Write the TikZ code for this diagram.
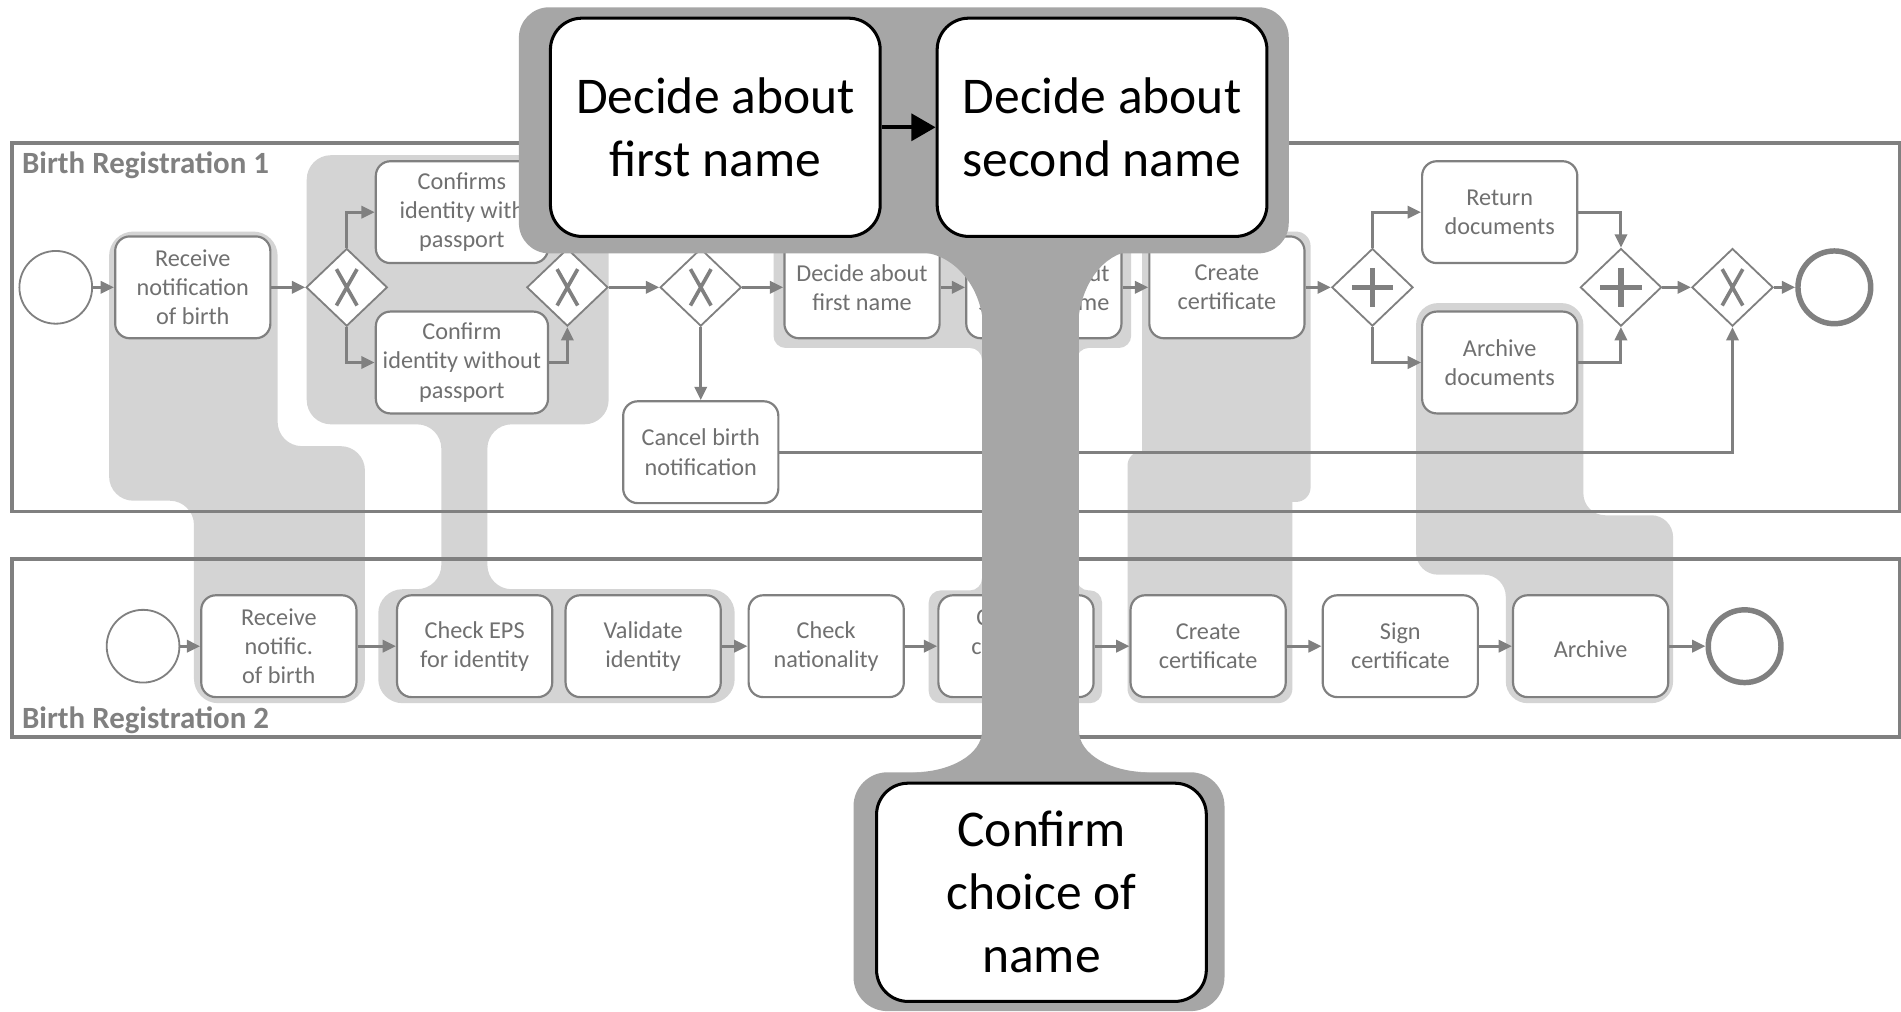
\documentclass[tikz,border=0pt]{standalone}
\usepackage{fontspec}
\setmainfont{Carlito}
\usetikzlibrary{shapes.geometric,arrows.meta}
\definecolor{bandgray}{RGB}{212,212,212}
\definecolor{darkov}{RGB}{166,166,166}
\definecolor{linegray}{RGB}{128,128,128}
\definecolor{txtgray}{RGB}{112,112,112}
\definecolor{poolgray}{RGB}{128,128,128}
\begin{document}
\begin{tikzpicture}[x=1pt,y=-1pt,
  task/.style={draw=linegray, line width=1.8pt, fill=white, rounded corners=12pt,
    minimum width=128pt, minimum height=84pt, inner sep=2pt, align=center,
    text=txtgray, font=\fontsize{20}{24}\selectfont,
    execute at begin node={\rule{0pt}{18pt}}},
  widetask/.style={task, minimum width=142pt},
  gw/.style={diamond, draw=linegray, line width=1.5pt, fill=white,
    minimum width=67pt, minimum height=64pt, inner sep=0pt},
  xgw/.style={gw, path picture={\draw[linegray, line width=3pt]
      ([xshift=-8.5pt,yshift=15pt]path picture bounding box.center) --
      ([xshift=8.5pt,yshift=-15pt]path picture bounding box.center)
      ([xshift=8.5pt,yshift=15pt]path picture bounding box.center) --
      ([xshift=-8.5pt,yshift=-15pt]path picture bounding box.center);}},
  pgw/.style={gw, path picture={\draw[linegray, line width=4.5pt]
      ([xshift=-17pt]path picture bounding box.center) --
      ([xshift=17pt]path picture bounding box.center)
      ([yshift=16pt]path picture bounding box.center) --
      ([yshift=-16pt]path picture bounding box.center);}},
  startev/.style={circle, draw=linegray, line width=1.5pt, fill=white,
    minimum size=60pt, inner sep=0pt},
  endev/.style={circle, draw=linegray, line width=4.5pt, fill=white,
    minimum size=60pt, inner sep=0pt},
  flow/.style={draw=linegray, line width=2.5pt, -{Triangle[length=11pt,width=10pt]}},
  pooltitle/.style={inner sep=0pt, text=poolgray, font=\fontsize{25.5}{30}\selectfont\bfseries},
  poolframe/.style={draw=poolgray, line width=3pt},
  band/.style={fill=bandgray},
  overlay/.style={fill=darkov},
  bigbox/.style={draw=black, line width=2.5pt, fill=white, rounded corners=26pt,
    minimum width=272pt, minimum height=180pt, inner sep=0pt, align=center,
    text=black, font=\fontsize{42.5}{52}\selectfont,
    execute at begin node={\rule{0pt}{35pt}}},
  bigflow/.style={draw=black, line width=3.5pt, -{Triangle[length=20pt,width=22pt]}}
]
\fill[white] (0,0) rectangle (1568,834);
\useasboundingbox (0,0) rectangle (1568,834);

% ---- correspondence bands (light)
\fill[band, rounded corners=20pt] (90,191) -- (229,191) -- (229,368) -- (301,368) -- (301,580) -- (160,580) -- (160,413) -- (90,413) -- cycle;
\fill[band, rounded corners=20pt] (253,128) -- (502,128) -- (502,350) -- (402,350) -- (402,486) -- (606,486) -- (606,580) -- (312,580) -- (312,486) -- (364,486) -- (364,350) -- (253,350) -- cycle;
\fill[band, rounded corners=10pt] (638,190) -- (933,190) -- (933,287) -- (888,287) -- (888,487) -- (909,487) -- (909,580) -- (766,580) -- (766,487) -- (810,487) -- (810,287) -- (638,287) -- cycle;
\fill[band, rounded corners=12pt] (942,191) rectangle (1081,414);
\fill[band, rounded corners=12pt] (930,372) rectangle (1066,580);
\fill[band, rounded corners=18pt] (1168,250) -- (1306,250) -- (1306,425) -- (1380,425) -- (1380,580) -- (1242,580) -- (1242,474) -- (1168,474) -- cycle;

% ---- pools
\draw[poolframe] (10,118) rectangle (1567,422);
\draw[poolframe] (10,461) rectangle (1567,608);
\node[pooltitle, anchor=base west] (L1) at (18,143) {Birth Registration 1};
\node[pooltitle, anchor=base west] (L2) at (18,601) {Birth Registration 2};

% ---- pool 1
\node[startev] (S1) at (46,237) {};
\node[task] (T1) at (159,237) {Receive\\notification\\of birth};
\node[xgw] (G1) at (286,237) {};
\node[widetask] (Tc1) at (381,175) {Confirms\\identity with\\passport};
\node[widetask] (Tc2) at (381,299) {Confirm\\identity without\\passport};
\node[xgw] (G2) at (468,237) {};
\node[xgw] (G3) at (578,237) {};
\node[task] (Tcan) at (578,373) {Cancel birth\\notification};
\node[task] (Tdf) at (711,237) {Decide about\\first name};
\node[task] (Tds) at (861,237) {Decide about\\second name};
\node[task] (Tcc) at (1012,237) {Create\\certificate};
\node[pgw] (GP1) at (1132,237) {};
\node[task] (Tret) at (1237,175) {Return\\documents};
\node[task] (Tarc) at (1237,299) {Archive\\documents};
\node[pgw] (GP2) at (1337,237) {};
\node[xgw] (GX4) at (1429,237) {};
\node[endev] (E1) at (1513,237) {};

\draw[flow] (S1) -- (T1);
\draw[flow] (T1) -- (G1);
\draw[flow] (G1.north) |- (Tc1.west);
\draw[flow] (G1.south) |- (Tc2.west);
\draw[flow] (Tc1.east) -| (G2.north);
\draw[flow] (Tc2.east) -| (G2.south);
\draw[flow] (G2) -- (G3);
\draw[flow] (G3) -- (Tdf);
\draw[flow] (G3) -- (Tcan);
\draw[flow] (Tdf) -- (Tds);
\draw[flow] (Tds) -- (Tcc);
\draw[flow] (Tcc) -- (GP1);
\draw[flow] (GP1.north) |- (Tret.west);
\draw[flow] (GP1.south) |- (Tarc.west);
\draw[flow] (Tret.east) -| (GP2.north);
\draw[flow] (Tarc.east) -| (GP2.south);
\draw[flow] (GP2) -- (GX4);
\draw[flow] (GX4) -- (E1);
\draw[flow] (Tcan.east) -| (GX4.south);

% ---- pool 2
\node[startev] (S2) at (118,533) {};
\node[task] (U1) at (230,533) {Receive\\notific.\\of birth};
\node[task] (U2) at (391.5,533) {Check EPS\\for identity};
\node[task] (U3) at (530.5,533) {Validate\\identity};
\node[task] (U4) at (681.5,533) {Check\\nationality};
\node[task] (U5) at (838,533) {Confirm\\choice of\\name};
\node[task] (U6) at (996.5,533) {Create\\certificate};
\node[task] (U7) at (1155,533) {Sign\\certificate};
\node[task] (U8) at (1312,533) {Archive};
\node[endev] (E2) at (1439,533) {};

\draw[flow] (S2) -- (U1);
\draw[flow] (U1) -- (U2);
\draw[flow] (U3) -- (U4);
\draw[flow] (U4) -- (U5);
\draw[flow] (U5) -- (U6);
\draw[flow] (U6) -- (U7);
\draw[flow] (U7) -- (U8);
\draw[flow] (U8) -- (E2);

% ---- dark overlay
\fill[overlay, rounded corners=25pt] (428,6) rectangle (1063,209);
\fill[overlay] (810,200) rectangle (890,645);
\fill[overlay] (757,207) -- (811,207) -- (811,270) .. controls (810,236) and (786,208) .. (757,208) -- cycle;
\fill[overlay] (889,207) -- (935,207) .. controls (910,208) and (890,236) .. (889,270) -- cycle;
\fill[overlay] (811,603) -- (810,603) .. controls (810,622) and (784,637) .. (753,637) -- (811,640) -- cycle;
\fill[overlay] (889,603) -- (890,603) .. controls (890,622) and (916,637) .. (948,637) -- (889,640) -- cycle;
\fill[overlay, rounded corners=28pt] (704,637) rectangle (1010,834);

\node[bigbox] (OA) at (590,105) {Decide about\\first name};
\node[bigbox] (OB) at (909,105) {Decide about\\second name};
\node[bigbox] (OC) at (859,736) {Confirm\\choice of\\name};
\draw[bigflow] (OA.east) -- (OB.west);
\end{tikzpicture}
\end{document}
